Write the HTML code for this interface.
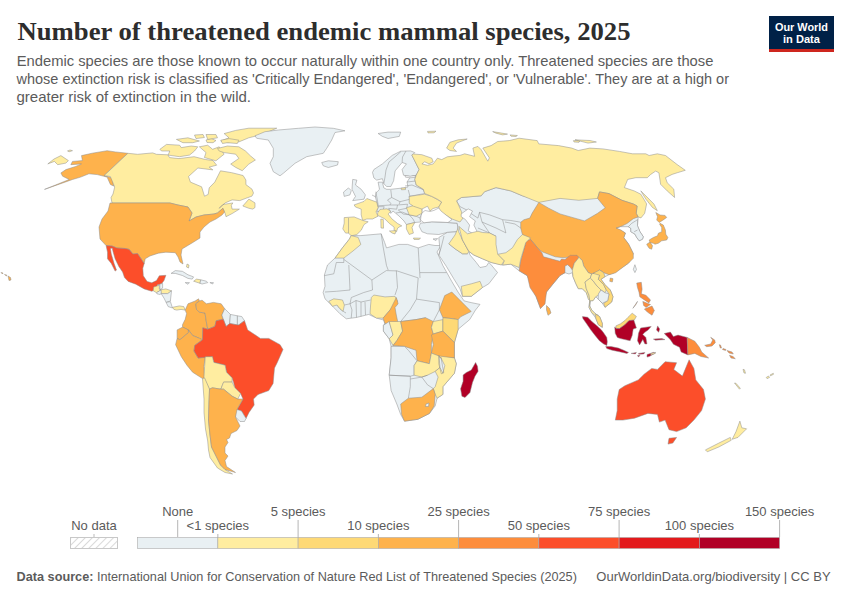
<!DOCTYPE html>
<html><head><meta charset="utf-8">
<style>
html,body{margin:0;padding:0;background:#fff;width:850px;height:600px;overflow:hidden}
svg{display:block}
.t{font-family:"Liberation Serif",serif;font-weight:bold;fill:#2d2d2d}
.s{font-family:"Liberation Sans",sans-serif;fill:#5b5b5b}
.l{font-family:"Liberation Sans",sans-serif;fill:#5b5b5b;font-size:13px}
</style></head><body>
<svg width="850" height="600" viewBox="0 0 850 600">
<defs>
<pattern id="hatch" patternUnits="userSpaceOnUse" width="5" height="5" patternTransform="rotate(45)">
<rect width="5" height="5" fill="#fff"/><line x1="0" y1="0" x2="0" y2="5" stroke="#d0d0d0" stroke-width="1.6"/>
</pattern>
</defs>
<text class="t" x="17.5" y="39.5" font-size="25" textLength="613" lengthAdjust="spacingAndGlyphs">Number of threatened endemic mammal species, 2025</text>
<text class="s" x="16.7" y="66.4" font-size="14.5" textLength="696.7" lengthAdjust="spacingAndGlyphs">Endemic species are those known to occur naturally within one country only. Threatened species are those</text>
<text class="s" x="16.5" y="84.2" font-size="14.5" textLength="712.5" lengthAdjust="spacingAndGlyphs">whose extinction risk is classified as 'Critically Endangered', 'Endangered', or 'Vulnerable'. They are at a high or</text>
<text class="s" x="16.5" y="102" font-size="14.5" textLength="234.5" lengthAdjust="spacingAndGlyphs">greater risk of extinction in the wild.</text>
<!-- logo -->
<rect x="769" y="16" width="65" height="36" fill="#002147"/>
<rect x="769" y="49" width="65" height="3" fill="#ce261e"/>
<text x="801.5" y="30.5" text-anchor="middle" font-family="Liberation Sans,sans-serif" font-weight="bold" font-size="11" fill="#fff" textLength="53" lengthAdjust="spacingAndGlyphs">Our World</text>
<text x="801.5" y="43" text-anchor="middle" font-family="Liberation Sans,sans-serif" font-weight="bold" font-size="11" fill="#fff" textLength="37" lengthAdjust="spacingAndGlyphs">in Data</text>
<g id="map" stroke="#8c8c8c" stroke-width="0.5" stroke-linejoin="round">
<path d="M81.5,155.6 L92.2,153.2 L107.1,150.7 L115.3,151.9 L127.9,153.3 L104.1,175.6 L112.0,177.9 L113.7,186.1 L110.4,184.5 L107.1,177.1 L97.2,174.6 L88.9,173.8 L80.7,177.1 L72.5,179.5 L44.5,189.4 L69.2,179.5 L62.6,176.2 L60.9,172.9 L65.9,169.6 L75.8,166.4 L81.5,163.9 L70.8,164.7 L72.5,161.4 L82.4,160.6Z" fill="#feb24c"/>
<path d="M47.8,163.9 L54.0,159.0 L60.9,155.6 L68.4,160.6 L65.9,163.1 L57.7,164.7 L54.4,161.4Z" fill="#ffeda0"/>
<path d="M67.5,150.9 L70.0,150.0 L72.5,150.7 L69.0,151.8Z" fill="#ffeda0"/>
<path d="M127.9,153.3 L137.6,154.3 L152.7,152.9 L156.5,154.3 L167.8,154.8 L169.6,157.6 L179.0,158.6 L194.1,156.7 L205.4,159.5 L212.9,160.5 L216.7,165.2 L209.2,167.1 L212.9,169.9 L197.9,168.0 L188.5,176.5 L190.4,182.1 L201.6,186.8 L204.5,196.2 L208.2,194.4 L209.2,187.8 L214.8,182.1 L220.5,170.8 L231.8,172.7 L243.1,175.5 L245.9,180.0 L245.9,184.6 L252.0,189.2 L253.5,193.0 L252.0,196.1 L245.9,198.3 L239.8,200.6 L232.1,199.9 L225.2,202.9 L219.1,208.3 L222.9,204.5 L232.9,202.9 L231.3,205.2 L232.1,209.1 L239.4,209.1 L232.1,213.6 L226.0,216.7 L225.2,213.6 L224.5,212.1 L222.9,208.3 L217.6,212.9 L214.0,214.0 L204.0,215.0 L196.0,217.0 L189.0,221.0 L192.0,213.0 L188.0,207.0 L178.0,205.0 L170.0,203.0 L112.0,203.0 L111.0,197.6 L113.0,194.0 L114.7,187.0 L110.3,176.5 L104.1,175.6Z" fill="#ffeda0"/>
<path d="M242.8,206.0 L248.9,199.1 L255.0,202.9 L255.0,207.5 L252.8,209.1 L248.9,208.3Z" fill="#ffeda0"/>
<path d="M159.9,149.3 L166.5,144.4 L179.6,145.2 L181.3,147.6 L191.2,146.0 L197.8,146.8 L194.5,151.0 L189.5,155.1 L179.6,156.7 L168.1,155.1 L169.8,151.0 L161.5,151.0Z" fill="#ffeda0"/>
<path d="M176.4,139.4 L187.9,137.8 L199.4,141.0 L192.8,142.7 L182.9,142.7Z" fill="#ffeda0"/>
<path d="M199.4,146.8 L207.7,145.2 L212.6,149.3 L219.2,146.8 L224.1,154.2 L215.9,160.8 L204.4,157.5 L206.0,152.6Z" fill="#ffeda0"/>
<path d="M217.5,148.5 L227.4,146.0 L238.9,146.8 L245.5,151.0 L250.5,155.9 L255.4,160.0 L248.8,164.1 L242.2,170.7 L235.7,167.4 L230.7,164.1 L238.9,158.4 L235.7,154.2 L224.1,152.6 L219.2,151.0Z" fill="#ffeda0"/>
<path d="M224.1,133.6 L235.7,130.4 L248.8,128.2 L276.8,128.2 L262.0,134.5 L248.8,137.8 L238.9,141.9 L227.4,142.7 L220.8,141.0 L229.0,137.8Z" fill="#ffeda0"/>
<path d="M206.0,140.0 L211.0,138.5 L216.0,140.5 L213.0,142.7 L207.0,142.5Z" fill="#ffeda0"/>
<path d="M220.8,140.2 L229.1,138.6 L238.9,140.2 L237.3,143.5 L227.4,142.7 L222.5,143.5Z" fill="#ffeda0"/>
<path d="M206.0,134.5 L215.9,134.5 L217.5,137.8 L207.7,139.4Z" fill="#ffeda0"/>
<path d="M194.5,135.0 L203.0,134.5 L204.4,137.5 L196.0,138.6Z" fill="#ffeda0"/>
<path d="M255.0,135.8 L265.0,131.7 L278.3,130.0 L298.3,128.3 L315.0,127.0 L333.3,128.3 L345.0,130.8 L335.0,132.5 L331.7,140.0 L326.7,148.3 L323.3,153.3 L306.7,156.7 L295.0,163.3 L283.3,173.3 L280.0,175.8 L273.3,171.7 L270.0,163.3 L273.3,156.7 L273.3,148.3 L268.3,140.0 L256.7,138.3Z" fill="#e9f0f3"/>
<path d="M321.7,162.5 L328.3,160.8 L338.3,161.7 L337.5,165.0 L328.3,167.5 L323.3,165.8Z" fill="#e9f0f3"/>
<path d="M110.0,203.0 L170.0,203.0 L178.0,205.0 L188.0,207.0 L192.0,213.0 L189.0,221.0 L196.0,217.0 L204.0,215.0 L214.0,214.0 L217.6,212.9 L222.9,208.3 L224.5,212.1 L222.0,215.0 L216.0,219.0 L210.0,222.0 L204.0,227.0 L200.0,232.0 L200.0,238.0 L192.0,243.0 L182.0,249.0 L181.0,255.0 L183.0,264.0 L180.0,262.0 L178.1,257.0 L175.3,252.7 L165.9,252.2 L158.4,253.2 L149.9,256.0 L145.2,258.8 L144.2,263.5 L140.5,257.9 L137.6,253.6 L132.9,254.1 L129.2,249.4 L125.4,248.5 L116.9,248.0 L112.2,246.1 L106.1,245.6 L100.0,239.0 L99.0,227.0 L102.0,219.0 L108.0,211.0Z" fill="#feb24c"/>
<path d="M106.1,245.6 L112.2,246.1 L116.9,248.0 L125.4,248.5 L129.2,249.4 L132.9,254.1 L137.6,253.6 L140.5,257.9 L144.2,263.5 L142.8,268.2 L143.3,275.8 L147.1,281.4 L151.8,282.8 L156.5,280.5 L159.3,275.8 L165.9,275.3 L164.0,280.5 L161.2,284.2 L157.4,284.7 L156.5,288.9 L151.8,291.3 L144.2,288.9 L135.8,284.2 L128.2,281.4 L124.5,277.6 L122.6,272.0 L118.8,266.4 L115.1,258.8 L113.2,252.2 L112.2,248.0 L110.4,248.5 L111.3,254.1 L114.1,263.5 L116.5,270.1 L115.1,271.1 L111.3,263.5 L107.5,258.8 L107.5,252.2Z" fill="#fc4e2a"/>
<path d="M153.6,287.1 L159.3,285.2 L159.3,288.9 L161.2,289.9 L156.5,292.7 L153.2,290.8Z" fill="#ffeda0"/>
<path d="M159.8,284.0 L162.6,283.5 L162.6,288.2 L159.8,289.6Z" fill="#e9f0f3"/>
<path d="M160.2,289.9 L165.9,288.9 L171.5,290.8 L167.8,293.6 L161.2,293.6Z" fill="#ffeda0"/>
<path d="M156.5,292.7 L161.2,289.9 L161.2,293.6 L160.0,294.5 L157.0,293.8Z" fill="#e9f0f3"/>
<path d="M161.2,293.6 L167.8,293.6 L171.5,290.8 L170.4,301.0 L166.1,302.4 L164.0,298.1 L162.0,295.0Z" fill="#e9f0f3"/>
<path d="M166.1,302.4 L170.4,301.6 L172.5,308.0 L168.2,306.6Z" fill="#e9f0f3"/>
<path d="M172.5,307.3 L179.5,305.9 L183.8,306.6 L185.2,310.1 L181.0,309.4 L176.7,310.1 L173.9,309.4Z" fill="#ffeda0"/>
<path d="M171.1,273.4 L175.3,270.6 L182.4,271.3 L188.0,274.8 L193.6,276.9 L192.2,279.1 L188.0,278.4 L182.4,275.5 L175.3,273.4Z" fill="#e9f0f3"/>
<path d="M193.6,281.2 L196.5,279.1 L200.7,279.8 L200.0,283.3Z" fill="#ffeda0"/>
<path d="M200.7,279.8 L206.4,281.2 L207.8,282.6 L202.1,284.0 L200.0,283.3Z" fill="#e9f0f3"/>
<path d="M185.2,282.6 L189.4,282.6 L188.0,284.3Z" fill="#e9f0f3"/>
<path d="M209.9,282.6 L213.4,282.6 L212.7,284.0Z" fill="#e9f0f3"/>
<path d="M187.0,264.0 L189.0,265.0 L188.5,268.0 L186.5,267.0Z" fill="#ffeda0"/>
<path d="M185.2,310.1 L188.0,303.8 L195.1,301.0 L198.6,298.8 L199.3,301.0 L195.8,303.8 L196.5,309.4 L199.3,312.2 L205.0,313.0 L206.4,322.1 L207.8,329.2 L202.8,327.8 L202.5,339.8 L199.6,338.4 L192.6,335.5 L188.4,329.9 L182.7,327.1 L182.4,324.9 L185.2,319.3 L186.6,313.6Z" fill="#feb24c"/>
<path d="M199.3,301.0 L202.1,300.2 L206.4,303.8 L213.4,302.4 L221.2,303.8 L224.7,308.7 L221.9,315.1 L223.3,319.3 L216.2,320.7 L214.8,326.4 L207.8,329.2 L206.4,322.1 L205.0,313.0 L199.3,312.2 L196.5,309.4 L195.8,303.8Z" fill="#feb24c"/>
<path d="M224.7,308.7 L230.4,314.4 L229.7,323.5 L226.1,326.4 L223.3,319.3 L221.9,315.1Z" fill="#e9f0f3"/>
<path d="M230.4,314.4 L237.4,315.8 L237.4,324.9 L229.7,323.5Z" fill="#e9f0f3"/>
<path d="M237.4,315.8 L241.7,316.5 L244.5,320.7 L238.8,324.9 L237.4,324.9Z" fill="#e9f0f3"/>
<path d="M177.1,329.9 L182.7,327.1 L188.4,329.9 L188.4,332.7 L179.9,339.8 L177.1,338.4Z" fill="#feb24c"/>
<path d="M188.4,329.9 L192.6,335.5 L199.6,338.4 L202.5,339.8 L194.7,345.4 L194.0,351.1 L198.2,358.1 L205.3,356.7 L203.9,366.6 L204.6,377.9 L202.5,378.6 L192.6,372.2 L186.9,365.2 L181.3,356.7 L175.6,344.7 L177.1,338.4 L179.9,339.8 L188.4,332.7Z" fill="#feb24c"/>
<path d="M202.8,327.8 L207.8,329.2 L214.8,326.4 L216.2,320.7 L223.3,319.3 L226.1,326.4 L229.7,323.5 L237.4,324.9 L238.8,324.9 L244.5,320.7 L247.7,329.9 L251.9,332.7 L260.4,338.4 L268.8,338.4 L280.1,344.7 L283.0,349.6 L277.3,362.4 L274.5,368.0 L273.1,383.5 L268.8,390.6 L258.0,394.5 L253.5,399.0 L254.2,405.0 L249.0,412.5 L246.0,418.5 L241.5,411.0 L237.0,409.5 L243.0,399.0 L240.6,393.4 L234.9,387.8 L233.5,382.1 L232.1,377.9 L226.5,372.2 L225.1,365.2 L213.8,362.4 L212.4,356.7 L198.2,358.1 L194.0,351.1 L194.7,345.4 L202.5,339.8Z" fill="#fc4e2a"/>
<path d="M205.3,356.7 L212.4,356.7 L213.8,362.4 L225.1,365.2 L226.5,372.2 L232.1,377.9 L232.1,382.1 L223.6,382.1 L220.8,389.2 L212.4,387.8 L209.5,389.2 L203.9,377.9 L204.6,366.6Z" fill="#ffeda0"/>
<path d="M223.6,382.1 L232.1,382.1 L234.9,387.8 L240.6,393.4 L237.8,399.1 L232.1,396.2 L223.6,389.2 L220.8,389.2Z" fill="#ffeda0"/>
<path d="M235.5,409.5 L237.0,409.5 L241.5,411.0 L246.0,418.5 L244.5,421.5 L240.0,421.5 L235.5,417.0Z" fill="#e9f0f3"/>
<path d="M202.5,378.6 L204.6,377.9 L209.5,389.2 L209.0,402.0 L208.5,420.0 L210.0,435.0 L211.5,447.0 L216.0,456.0 L220.5,465.0 L225.0,469.5 L232.5,474.0 L225.0,472.5 L217.5,468.0 L210.0,457.5 L208.5,450.0 L207.7,441.0 L205.5,429.0 L204.0,412.5 L204.0,399.0Z" fill="#ffeda0"/>
<path d="M209.5,389.2 L212.4,387.8 L220.8,389.2 L223.6,389.2 L232.1,396.2 L237.8,399.1 L243.0,399.0 L237.0,409.5 L235.5,417.0 L240.0,426.0 L237.0,430.5 L231.0,433.5 L229.5,438.0 L226.5,439.5 L228.0,442.5 L225.0,447.0 L225.0,453.0 L228.0,456.0 L225.0,460.5 L226.5,466.5 L235.5,472.5 L225.0,469.5 L220.5,465.0 L216.0,456.0 L211.5,447.0 L210.0,435.0 L208.5,420.0 L209.0,402.0Z" fill="#feb24c"/>
<path d="M378.1,133.5 L388.0,132.1 L400.7,132.1 L399.3,136.4 L388.0,138.5 L382.4,136.4Z" fill="#e9f0f3"/>
<path d="M427.5,131.4 L436.0,131.2 L434.0,132.8 L428.0,132.9Z" fill="#ffeda0"/>
<path d="M446.6,148.1 L449.9,142.3 L458.1,139.8 L467.2,139.0 L456.5,143.1 L453.2,148.1 L456.5,151.4 L449.9,150.5Z" fill="#ffeda0"/>
<path d="M372.5,172.4 L373.9,169.5 L382.4,163.9 L392.2,155.4 L400.7,151.2 L410.6,150.9 L414.8,152.6 L412.0,155.4 L419.1,169.5 L416.2,175.2 L410.6,176.6 L403.5,175.2 L402.1,169.5 L406.4,163.9 L402.1,162.5 L395.1,170.9 L393.6,180.8 L390.8,186.5 L386.6,186.5 L383.8,183.6 L382.4,178.7 L376.7,180.1 L373.9,178.0Z" fill="#e9f0f3"/>
<path d="M401.0,151.5 L396.0,156.0 L389.0,162.0 L386.0,170.0 L385.0,177.0 L383.8,183.6" fill="none"/>
<path d="M406.0,151.0 L402.5,157.0 L402.1,162.5" fill="none"/>
<path d="M352.7,179.4 L356.9,180.1 L355.5,185.0 L361.2,189.3 L365.4,194.9 L364.0,199.2 L352.7,200.6 L355.5,196.4 L352.0,189.3Z" fill="#e9f0f3"/>
<path d="M343.5,192.1 L348.5,187.9 L351.3,190.7 L349.9,194.9 L344.2,196.4Z" fill="#e9f0f3"/>
<path d="M375.3,196.4 L376.0,193.0 L378.1,190.7 L379.5,189.3 L378.1,182.2 L382.4,182.2 L383.8,187.9 L386.6,189.3 L390.8,189.3 L403.5,187.9 L408.0,187.0 L407.0,182.0 L410.6,176.6 L416.2,175.2 L414.8,179.4 L416.2,185.0 L423.3,189.3 L424.7,193.5 L409.2,196.4 L410.6,203.4 L413.4,206.2 L421.9,209.1 L421.9,213.4 L420.0,218.0 L420.5,222.0 L414.8,222.5 L406.4,224.6 L404.0,221.0 L399.0,216.0 L393.0,211.0 L390.8,213.4 L389.4,209.1 L382.4,210.5 L376.7,211.9 L378.1,207.7 L376.7,202.1Z" fill="#e9f0f3"/>
<path d="M390.8,190.0 L391.7,197.5 L387.5,200.0 L390.8,203.3 L390.0,205.0" fill="none"/>
<path d="M375.8,191.7 L377.0,198.0 L378.3,205.8 L390.0,205.0" fill="none"/>
<path d="M391.7,197.5 L400.0,201.7 L410.0,199.2" fill="none"/>
<path d="M390.0,205.0 L397.5,205.0 L407.5,204.2" fill="none"/>
<path d="M399.2,204.2 L400.0,201.7" fill="none"/>
<path d="M388.3,208.3 L396.7,209.2 L397.5,205.0" fill="none"/>
<path d="M398.3,210.0 L406.7,208.3 L407.5,204.2" fill="none"/>
<path d="M376.7,206.7 L384.2,206.7 L383.3,209.2" fill="none"/>
<path d="M408.3,190.0 L410.0,196.7 L421.7,196.7" fill="none"/>
<path d="M405.0,186.0 L412.0,185.0 L424.0,190.0" fill="none"/>
<path d="M398.3,210.0 L403.0,214.0 L409.2,214.8" fill="none"/>
<path d="M372.0,195.0 L376.0,197.0" fill="none"/>
<path d="M407.0,182.0 L415.5,181.0" fill="none"/>
<path d="M396.0,213.0 L402.0,212.0 L409.2,214.8 L413.0,219.0 L414.8,222.5" fill="none"/>
<path d="M409.2,214.8 L416.2,216.2 L420.0,218.0" fill="none"/>
<path d="M405.0,175.6 L410.0,176.2 L415.5,175.6 L415.0,177.3 L410.0,177.8 L405.5,177.2Z" fill="#ffffff"/>
<path d="M401.0,188.2 L405.5,187.8 L405.5,189.6 L401.5,189.8Z" fill="#ffeda0"/>
<path d="M354.1,204.9 L364.0,201.4 L366.8,198.5 L376.7,202.1 L378.1,207.7 L376.0,211.9 L378.1,216.2 L372.5,219.0 L366.8,219.0 L362.6,220.4 L361.2,214.8 L361.2,209.1 L355.5,207.0Z" fill="#ffeda0"/>
<path d="M344.2,217.6 L354.1,216.9 L362.6,220.4 L368.2,221.8 L364.0,224.6 L361.2,230.3 L356.9,234.5 L351.3,235.9 L348.5,233.1 L345.6,233.1 L342.8,228.9 L344.2,223.2Z" fill="#ffeda0"/>
<path d="M348.5,218.0 L348.5,233.1" fill="none"/>
<path d="M377.6,212.9 L380.0,209.4 L387.0,208.8 L390.6,211.2 L388.2,214.1 L391.8,218.8 L397.6,223.5 L401.8,225.9 L400.0,226.5 L397.6,228.2 L396.5,231.8 L394.1,230.6 L394.1,227.1 L389.4,223.5 L384.7,218.8 L380.0,216.5 L377.6,215.3Z" fill="#ffeda0"/>
<path d="M389.4,231.0 L396.0,230.6 L395.0,234.0 L392.0,233.0Z" fill="#ffeda0"/>
<path d="M380.8,219.0 L383.3,219.5 L383.5,228.2 L381.0,228.0Z" fill="#ffeda0"/>
<path d="M406.4,224.6 L414.8,222.5 L412.0,227.5 L413.4,233.1 L409.2,234.5 L406.4,228.9Z" fill="#ffeda0"/>
<path d="M413.4,238.0 L420.5,238.2 L419.0,239.5 L414.0,239.4Z" fill="#ffeda0"/>
<path d="M406.4,207.7 L413.4,205.6 L421.9,207.7 L421.9,213.4 L416.2,216.2 L409.2,214.8Z" fill="#ffeda0"/>
<path d="M409.2,196.4 L424.7,194.2 L431.8,196.4 L441.7,202.0 L438.8,207.0 L433.0,208.5 L430.0,211.0 L427.5,206.2 L421.9,209.1 L413.4,206.2 L409.2,203.4Z" fill="#ffeda0"/>
<path d="M420.5,223.2 L431.8,221.8 L447.3,222.5 L457.2,223.2 L458.6,231.7 L447.3,232.4 L438.8,234.5 L427.5,233.8 L421.9,231.7 L419.1,226.1Z" fill="#e9f0f3"/>
<path d="M433.0,239.0 L437.5,238.5 L436.0,240.5Z" fill="#e9f0f3"/>
<path d="M351.2,235.6 L360.9,235.6 L381.2,233.8 L384.7,242.6 L386.5,247.9 L398.8,244.4 L407.6,244.4 L418.2,247.9 L428.8,244.4 L435.0,245.5 L441.0,245.5 L437.0,252.0 L442.9,265.6 L451.8,281.5 L458.0,292.0 L464.1,300.9 L471.2,302.6 L480.0,304.4 L475.5,310.0 L469.7,319.6 L458.2,329.2 L454.4,342.6 L454.4,357.9 L456.3,363.7 L454.4,373.3 L442.9,386.7 L442.9,394.4 L437.1,398.2 L435.2,405.9 L429.4,413.5 L417.9,419.3 L404.5,421.2 L400.7,414.5 L396.8,404.0 L391.1,390.5 L389.2,375.2 L391.1,357.9 L391.1,346.4 L389.2,338.8 L383.4,331.1 L383.4,325.3 L384.7,323.8 L385.0,325.0 L383.8,320.0 L378.8,318.8 L372.5,316.3 L368.8,314.4 L356.3,317.5 L346.3,318.8 L340.0,313.8 L333.8,307.5 L328.8,302.5 L325.0,298.8 L323.1,292.5 L325.0,286.3 L324.4,275.0 L327.5,265.0 L335.0,258.1 L342.4,247.9 L349.4,239.1Z" fill="#e9f0f3"/>
<path d="M343.8,258.1 L343.8,262.5 L336.3,262.5 L333.8,273.8 L324.4,275.6" fill="none"/>
<path d="M343.8,259.4 L371.9,280.0 L386.3,270.6 L397.0,270.9 L418.2,277.9" fill="none"/>
<path d="M381.2,233.8 L383.0,246.2 L386.5,265.6 L388.2,270.0" fill="none"/>
<path d="M418.2,247.9 L420.0,277.9" fill="none"/>
<path d="M420.0,272.6 L446.5,272.6" fill="none"/>
<path d="M348.8,265.0 L350.0,290.0 L336.3,291.3 L325.0,292.0" fill="none"/>
<path d="M350.0,303.8 L351.3,297.5 L363.8,292.5 L372.5,290.0 L371.9,280.0" fill="none"/>
<path d="M396.3,270.6 L397.5,287.5 L395.0,295.0" fill="none"/>
<path d="M418.2,277.9 L416.5,299.1 L410.0,310.0 L400.7,321.5" fill="none"/>
<path d="M416.5,299.1 L439.4,302.6 L439.4,309.7" fill="none"/>
<path d="M344.4,305.0 L350.0,303.8 L352.0,310.0 L351.2,318.0" fill="none"/>
<path d="M350.0,303.8 L356.0,300.5 L361.0,302.0 L361.0,316.5" fill="none"/>
<path d="M356.0,300.5 L356.5,317.5" fill="none"/>
<path d="M365.0,302.0 L365.5,315.0" fill="none"/>
<path d="M361.0,302.0 L370.6,300.0" fill="none"/>
<path d="M336.9,305.0 L340.0,308.8 L343.1,311.3 L346.0,313.0" fill="none"/>
<path d="M400.7,321.5 L416.0,319.6 L425.6,317.7" fill="none"/>
<path d="M433.3,321.5 L439.4,309.7" fill="none"/>
<path d="M351.2,235.6 L358.2,237.4 L360.9,244.4 L353.0,251.0 L343.8,258.1 L335.0,258.1 L342.4,247.9 L349.4,239.1Z" fill="#ffeda0"/>
<path d="M328.8,301.3 L333.8,298.8 L342.5,300.0 L344.4,305.0 L343.1,311.3 L340.0,308.8 L336.9,305.0 L332.5,306.3Z" fill="#ffeda0"/>
<path d="M371.3,297.5 L373.8,295.0 L385.0,296.9 L395.0,296.3 L397.5,301.3 L390.0,310.0 L383.1,318.1 L376.3,318.1 L370.0,313.8 L370.6,305.0Z" fill="#ffeda0"/>
<path d="M396.3,297.5 L397.5,301.3 L398.1,303.8 L395.0,307.5 L396.3,315.0 L398.1,323.5 L385.0,323.5 L383.1,318.1 L390.0,310.0Z" fill="#feb24c"/>
<path d="M444.7,295.6 L451.8,292.0 L458.8,299.1 L462.3,302.6 L471.2,311.5 L460.6,316.8 L458.2,319.6 L451.0,318.5 L442.9,317.7 L439.4,309.7Z" fill="#feb24c"/>
<path d="M383.4,325.3 L389.2,321.5 L393.0,335.0 L389.2,338.8 L383.4,331.1Z" fill="#e9f0f3"/>
<path d="M389.2,321.5 L400.7,321.5 L402.6,331.1 L396.8,340.7 L393.0,345.5 L389.2,338.8 L393.0,335.0Z" fill="#ffeda0"/>
<path d="M400.7,321.5 L416.0,319.6 L425.6,317.7 L433.3,321.5 L431.4,327.3 L433.3,334.0 L431.4,344.5 L431.4,353.1 L429.4,363.7 L417.0,360.8 L416.0,350.3 L404.5,346.4 L393.0,345.5 L396.8,340.7 L402.6,331.1Z" fill="#feb24c"/>
<path d="M433.3,321.5 L442.9,319.6 L442.9,331.1 L433.3,334.0 L431.4,327.3Z" fill="#ffeda0"/>
<path d="M442.9,317.7 L451.0,318.5 L458.2,319.6 L458.2,329.2 L454.4,342.6 L442.9,331.1Z" fill="#fed976"/>
<path d="M431.4,334.9 L433.3,334.0 L442.9,331.1 L454.4,342.6 L454.4,357.9 L441.0,358.0 L431.4,353.1 L433.3,344.5Z" fill="#feb24c"/>
<path d="M391.1,346.4 L404.5,346.4 L408.4,350.3 L417.0,360.8 L414.1,365.6 L414.1,375.2 L410.3,376.2 L389.2,375.2 L391.1,357.9Z" fill="#e9f0f3"/>
<path d="M414.1,365.6 L417.0,360.8 L429.4,363.7 L431.4,353.1 L439.0,356.0 L440.0,367.5 L435.2,371.4 L427.5,375.2 L421.8,377.1 L414.1,375.2Z" fill="#ffeda0"/>
<path d="M439.0,356.0 L454.4,357.9 L456.3,363.7 L454.4,373.3 L442.9,386.7 L442.9,394.4 L437.1,398.2 L435.2,394.4 L433.3,388.6 L435.2,386.7 L438.1,377.1 L435.2,371.4 L440.0,367.5 L442.9,373.3 L444.8,365.6 L441.0,358.0Z" fill="#ffeda0"/>
<path d="M389.2,375.2 L410.3,376.2 L410.3,386.7 L408.4,398.2" fill="none"/>
<path d="M410.3,379.0 L421.8,377.1 L427.5,384.8 L433.3,388.6" fill="none"/>
<path d="M421.8,377.1 L427.5,375.2" fill="none"/>
<path d="M400.7,404.0 L408.4,398.2 L421.8,397.2 L433.3,388.6 L435.2,394.4 L434.2,405.9 L429.4,413.5 L417.9,419.3 L404.5,421.2 L401.6,414.5Z" fill="#feb24c"/>
<path d="M426.0,404.0 L429.0,403.0 L428.5,406.5 L425.5,406.5Z" fill="#e9f0f3"/>
<path d="M475.6,362.5 L477.5,366.3 L478.1,371.3 L475.0,376.3 L472.5,382.5 L470.0,392.5 L465.0,397.5 L461.9,396.3 L460.6,388.8 L463.1,381.3 L463.1,375.0 L466.3,372.5 L471.3,370.0Z" fill="#b10026"/>
<path d="M438.8,355.0 L438.8,363.8 L441.3,373.8 L443.8,372.5 L442.5,366.3 L441.0,357.0" fill="none"/>
<path d="M438.8,237.5 L447.3,232.4 L458.6,231.7 L458.8,226.3 L462.5,240.0 L468.8,251.3 L470.0,255.0 L476.3,262.5 L480.0,267.5 L486.3,266.3 L488.8,262.5 L491.3,265.0 L497.5,272.5 L488.8,283.8 L482.5,287.5 L471.3,296.3 L462.5,296.3 L460.0,288.8 L453.8,278.8 L446.3,266.3 L438.8,255.0 L440.0,250.0Z" fill="#e9f0f3"/>
<path d="M444.0,236.0 L441.0,248.0 L438.8,255.0" fill="none"/>
<path d="M448.8,243.8 L455.0,248.8 L462.5,253.8 L467.5,253.8" fill="none"/>
<path d="M461.3,286.3 L471.3,283.8 L480.0,281.3 L482.5,287.5 L471.3,296.3 L462.5,296.3Z" fill="#ffeda0"/>
<path d="M448.8,243.8 L455.0,235.0 L458.8,226.3 L462.5,240.0 L468.8,251.3 L467.5,253.8 L462.5,253.8 L455.0,248.8Z" fill="#ffeda0"/>
<path d="M447.3,209.1 L456.5,200.8 L461.4,197.5 L481.2,195.8 L484.5,191.7 L496.0,187.6 L510.8,190.9 L522.4,195.8 L538.8,200.0 L560.0,196.0 L578.8,198.0 L597.6,196.0 L599.5,189.9 L609.0,191.6 L622.0,198.3 L633.4,202.0 L639.0,204.0 L638.0,213.0 L638.1,218.7 L637.5,225.8 L640.0,231.7 L643.3,236.7 L642.5,239.2 L639.2,240.8 L636.7,237.5 L635.0,234.2 L630.8,231.7 L630.8,228.3 L628.3,226.7 L620.7,226.7 L615.9,228.2 L625.4,233.0 L623.8,237.7 L628.6,244.1 L633.3,253.6 L628.6,263.1 L614.3,272.6 L609.0,274.7 L605.0,276.7 L601.0,279.3 L605.0,284.7 L610.3,290.0 L613.0,296.7 L611.7,302.0 L605.0,307.3 L602.3,303.3 L598.3,299.3 L595.7,296.7 L593.0,300.7 L590.3,300.7 L589.7,306.0 L591.7,310.0 L595.7,314.0 L599.7,316.7 L602.3,323.3 L602.3,327.3 L598.3,324.7 L595.7,318.0 L591.7,312.7 L589.0,307.3 L589.7,300.7 L586.3,292.7 L582.3,288.7 L578.3,288.7 L575.7,283.3 L573.0,276.7 L572.3,272.7 L569.0,274.0 L565.0,272.7 L560.0,275.5 L546.5,292.0 L540.5,308.5 L536.0,296.5 L527.3,275.7 L519.1,270.8 L510.8,264.2 L502.6,265.0 L491.3,262.5 L482.5,258.8 L473.8,255.0 L468.8,251.3 L462.5,240.0 L458.6,231.7 L457.2,223.2 L447.3,222.5 L445.0,216.0Z" fill="#e9f0f3"/>
<path d="M456.5,200.8 L459.8,206.5 L466.4,209.8 L472.9,214.8 L477.9,218.1 L479.5,212.3 L489.4,214.8 L502.6,219.7 L510.8,220.5 L520.7,222.2" fill="none"/>
<path d="M477.9,228.0 L489.4,232.9 L496.0,236.2" fill="none"/>
<path d="M502.6,219.7 L505.9,232.9" fill="none"/>
<path d="M412.0,154.7 L413.4,154.0 L421.9,154.7 L431.8,158.2 L433.2,161.8 L429.0,163.9 L424.7,161.8 L421.9,163.9 L427.5,165.3 L433.2,163.9 L437.4,158.2 L441.7,159.6 L447.3,156.8 L453.0,156.1 L460.0,155.4 L464.7,153.8 L474.6,156.3 L472.9,148.1 L477.9,146.4 L481.2,149.7 L487.8,161.2 L489.4,157.9 L482.8,148.1 L491.1,145.6 L497.7,141.5 L509.2,140.6 L519.1,138.2 L537.2,140.6 L538.8,143.9 L558.6,145.6 L571.8,148.1 L578.2,150.5 L589.8,148.1 L602.9,148.9 L619.4,151.4 L632.6,153.8 L645.8,153.8 L649.1,155.5 L657.3,153.8 L665.5,155.5 L677.1,164.5 L685.3,170.3 L677.1,172.8 L672.1,174.4 L665.5,177.7 L667.2,182.7 L673.8,189.2 L674.6,197.5 L667.2,190.9 L660.6,184.3 L658.9,172.8 L655.7,171.1 L650.7,174.4 L647.4,177.7 L635.9,177.7 L627.7,179.4 L624.4,187.6 L634.2,190.9 L640.8,194.2 L645.8,202.4 L646.6,204.0 L644.7,213.3 L641.0,217.9 L638.1,217.0 L636.2,213.3 L637.1,206.0 L633.4,204.0 L622.0,200.3 L609.0,193.6 L599.5,191.9 L597.6,198.4 L578.8,200.3 L560.0,198.4 L538.8,202.4 L522.4,195.8 L510.8,190.9 L496.0,187.6 L484.5,191.7 L481.2,195.8 L461.4,197.5 L456.5,200.8 L459.0,206.0 L461.4,211.5 L463.0,218.0 L460.0,222.0 L452.0,219.0 L444.0,214.0 L439.0,211.0 L438.8,207.0 L441.7,202.0 L437.4,199.2 L431.8,196.4 L424.7,193.5 L423.3,189.3 L416.2,185.0 L414.8,179.4 L416.2,175.2 L419.1,169.5 L412.0,155.4Z" fill="#ffeda0"/>
<path d="M640.8,190.9 L646.0,196.0 L654.0,204.1 L657.3,210.7 L652.4,207.4 L645.8,199.1Z" fill="#ffeda0"/>
<path d="M492.7,131.6 L507.5,134.1 L502.6,134.9 L496.0,133.2Z" fill="#ffeda0"/>
<path d="M510.0,134.9 L517.4,135.5 L516.0,136.5 L511.0,136.2Z" fill="#ffeda0"/>
<path d="M573.4,140.6 L580.0,140.8 L579.0,142.3 L574.0,142.0Z" fill="#ffeda0"/>
<path d="M575.0,139.8 L590.0,140.5 L596.4,142.0 L588.0,143.1Z" fill="#ffeda0"/>
<path d="M461.2,213.9 L468.2,208.9 L472.5,211.0 L469.6,216.7 L475.3,220.9 L473.9,225.1 L478.1,233.6 L473.9,234.3 L468.2,230.8 L469.6,225.1 L465.4,219.5 L461.2,216.7Z" fill="#ffffff"/>
<path d="M520.7,228.0 L520.7,222.2 L524.0,219.7 L529.8,218.1 L532.2,213.1 L538.8,202.4 L548.7,208.2 L560.0,213.9 L584.5,220.9 L597.6,213.3 L605.2,207.8 L597.6,198.4 L599.5,191.9 L609.0,193.6 L622.0,200.3 L633.4,204.0 L637.1,206.0 L636.2,213.3 L638.1,217.0 L633.3,218.7 L627.0,223.5 L622.0,226.0 L616.0,228.0 L621.0,230.0 L625.4,233.0 L623.8,237.7 L628.6,244.1 L633.3,253.6 L633.3,258.3 L628.6,263.1 L622.2,267.8 L615.7,272.7 L611.7,274.0 L609.0,274.7 L603.7,272.7 L599.7,270.0 L595.7,272.7 L591.7,274.0 L588.3,272.7 L583.7,266.0 L582.3,260.7 L579.0,257.3 L576.7,256.0 L565.2,257.6 L561.9,257.6 L555.3,256.8 L542.1,251.8 L538.8,249.4 L530.6,239.5 L522.4,234.5Z" fill="#feb24c"/>
<path d="M628.3,226.7 L631.7,223.3 L635.8,220.8 L637.5,219.6 L637.5,225.8 L640.0,231.7 L643.3,236.7 L642.5,239.2 L639.2,240.8 L636.7,237.5 L635.0,234.2 L630.8,231.7 L630.8,228.3Z" fill="#e9f0f3"/>
<path d="M634.2,231.7 L637.5,230.0" fill="none"/>
<path d="M524.0,241.1 L530.6,239.5 L538.8,249.4 L542.0,253.0 L543.5,256.8 L560.0,261.3 L561.5,259.0 L565.0,259.5 L570.3,255.3 L577.0,255.3 L579.0,258.0 L574.3,263.3 L572.3,270.0 L570.3,267.3 L567.7,264.7 L565.0,266.0 L565.0,272.7 L560.0,275.5 L552.5,284.5 L546.5,292.0 L545.0,304.0 L540.5,308.5 L536.0,296.5 L530.0,287.5 L527.3,275.7 L519.1,270.8 L520.7,260.9 L525.7,242.8Z" fill="#fd8d3c"/>
<path d="M546.5,305.5 L549.5,308.5 L551.0,313.0 L548.0,315.3 L546.5,310.0Z" fill="#feb24c"/>
<path d="M522.4,234.5 L530.6,237.8 L525.7,242.8 L520.7,259.2 L519.1,267.5 L510.8,264.2 L502.6,265.0 L504.2,260.9 L497.7,254.3 L505.9,252.7 L512.5,247.7 L517.4,239.5Z" fill="#ffeda0"/>
<path d="M458.8,226.3 L467.5,233.8 L477.9,231.2 L482.5,232.5 L489.4,232.9 L496.0,236.2 L496.0,244.4 L497.7,254.3 L504.2,260.9 L501.3,265.0 L491.3,262.5 L482.5,258.8 L473.8,255.0 L468.8,251.3 L462.5,240.0Z" fill="#ffeda0"/>
<path d="M579.0,257.3 L582.3,260.7 L583.7,266.0 L588.3,272.7 L591.7,274.0 L590.3,278.0 L585.0,282.0 L586.3,288.7 L589.0,295.3 L589.7,300.7 L588.3,299.3 L586.3,292.7 L582.3,288.7 L578.3,288.7 L575.7,283.3 L573.0,276.7 L572.3,270.0 L574.3,263.3Z" fill="#ffeda0"/>
<path d="M585.0,282.0 L590.3,278.0 L593.0,280.7 L597.0,286.0 L601.0,290.0 L598.3,295.3 L595.7,296.7 L593.0,300.7 L590.3,300.7 L589.7,306.0 L591.7,310.0 L595.7,314.0 L598.3,315.3 L595.7,316.0 L591.7,312.7 L589.0,307.3 L589.7,300.7 L589.0,295.3 L586.3,288.7Z" fill="#ffeda0"/>
<path d="M590.3,278.0 L591.7,274.0 L595.7,272.7 L599.7,275.3 L598.3,279.3 L603.7,284.7 L606.3,290.0 L605.0,292.7 L601.0,290.0 L597.0,286.0 L593.0,280.7Z" fill="#ffeda0"/>
<path d="M593.0,273.3 L599.7,270.0 L603.7,272.7 L605.0,276.7 L601.0,279.3 L605.0,284.7 L610.3,290.0 L613.0,296.7 L611.7,302.0 L605.0,307.3 L603.7,303.3 L607.7,300.7 L609.0,294.0 L606.3,290.0 L603.7,284.7 L598.3,279.3 L599.7,275.3Z" fill="#fed976"/>
<path d="M598.3,294.0 L601.0,290.0 L605.0,292.7 L609.0,294.0 L607.7,300.7 L602.3,303.3 L598.3,299.3Z" fill="#e9f0f3"/>
<path d="M595.7,314.0 L599.7,316.7 L602.3,323.3 L602.3,327.3 L598.3,324.7 L595.7,318.0Z" fill="#fed976"/>
<path d="M655.8,212.5 L660.0,215.0 L665.0,215.4 L666.7,217.5 L662.5,220.4 L659.2,222.5 L656.7,220.0 L657.5,216.7Z" fill="#feb24c"/>
<path d="M660.0,223.3 L663.3,225.0 L665.4,230.0 L665.8,234.2 L667.9,237.5 L666.7,240.0 L661.7,240.8 L658.3,243.3 L655.0,244.2 L653.3,243.3 L650.0,242.5 L649.2,240.0 L653.3,237.5 L657.5,235.8 L658.3,233.3 L661.7,231.7 L661.7,227.5 L659.6,224.2Z" fill="#feb24c"/>
<path d="M646.7,244.2 L650.0,242.1 L652.5,245.8 L651.7,249.2 L649.2,248.3 L647.5,245.8Z" fill="#feb24c"/>
<path d="M634.9,264.7 L636.5,269.4 L634.9,272.6 L633.3,269.4Z" fill="#e9f0f3"/>
<path d="M610.3,278.0 L613.0,278.7 L612.3,282.0 L609.7,281.3Z" fill="#feb24c"/>
<path d="M636.7,283.1 L641.3,282.3 L642.1,289.2 L641.3,293.8 L645.9,295.3 L650.5,299.9 L648.9,302.9 L644.4,299.9 L639.8,296.8 L639.0,292.2 L637.5,287.6Z" fill="#fd8d3c"/>
<path d="M642.8,301.4 L650.5,304.5 L645.9,307.5 L643.6,305.2Z" fill="#fd8d3c"/>
<path d="M644.4,309.1 L652.0,306.0 L654.3,310.6 L652.0,315.2 L647.4,312.1Z" fill="#fd8d3c"/>
<path d="M632.9,308.3 L637.5,301.4 L635.9,304.5Z" fill="#fd8d3c"/>
<path d="M615.8,325.9 L620.5,323.8 L624.8,320.6 L627.9,317.4 L632.2,313.2 L636.4,316.4 L634.3,320.1 L629.0,320.6 L624.8,324.8 L619.5,328.5 L616.3,328.5Z" fill="#fed976"/>
<path d="M614.7,326.9 L616.3,328.5 L619.5,328.5 L624.8,324.8 L629.0,320.6 L633.8,320.1 L635.4,324.8 L636.4,328.0 L633.2,329.1 L632.2,335.4 L630.1,340.7 L624.8,339.6 L620.5,338.6 L617.4,337.5 L615.2,333.3Z" fill="#b10026"/>
<path d="M582.4,316.6 L587.7,317.2 L591.9,321.6 L597.2,325.9 L601.5,330.1 L603.6,332.8 L606.8,337.5 L607.3,341.8 L606.8,345.5 L603.6,343.9 L599.4,340.7 L595.1,335.4 L590.9,330.1 L586.6,323.8 L582.9,318.5Z" fill="#b10026"/>
<path d="M605.7,346.5 L611.0,346.5 L618.4,348.1 L623.7,350.2 L628.5,352.4 L626.9,353.4 L619.5,351.8 L612.1,350.2 L606.8,348.6Z" fill="#b10026"/>
<path d="M640.6,328.0 L651.2,326.4 L648.1,330.1 L644.9,332.2 L642.8,334.4 L645.9,337.5 L647.0,343.9 L644.9,343.9 L642.8,339.6 L639.6,344.9 L637.5,340.7 L638.5,333.3Z" fill="#b10026"/>
<path d="M631.1,353.4 L636.4,352.4 L635.4,353.9Z" fill="#b10026"/>
<path d="M638.5,353.4 L644.9,352.4 L643.8,353.9 L638.8,354.2Z" fill="#b10026"/>
<path d="M637.5,355.5 L640.0,355.2 L638.5,357.1Z" fill="#b10026"/>
<path d="M647.0,354.5 L653.4,352.4 L655.5,352.9 L649.1,356.6 L647.0,357.1Z" fill="#b10026"/>
<path d="M657.6,325.9 L659.7,329.1 L658.7,332.2 L656.5,330.1Z" fill="#b10026"/>
<path d="M653.4,339.1 L661.8,338.6 L665.0,339.6 L655.5,340.2Z" fill="#b10026"/>
<path d="M664.2,333.5 L670.4,332.0 L673.4,336.6 L678.0,335.1 L687.2,337.4 L687.9,354.9 L681.1,351.9 L679.5,347.3 L673.4,344.2 L670.4,339.7Z" fill="#b10026"/>
<path d="M687.2,337.4 L694.8,341.2 L699.4,347.3 L701.7,351.9 L708.6,358.0 L701.0,356.5 L694.8,353.4 L687.9,354.9Z" fill="#fd8d3c"/>
<path d="M704.7,345.3 L710.7,344.0 L712.7,340.0 L710.7,337.3 L714.7,340.0 L715.3,342.7 L712.0,346.0 L706.7,346.7Z" fill="#fd8d3c"/>
<path d="M719.3,344.7 L720.5,345.0 L721.5,348.0 L720.3,348.0Z" fill="#fd8d3c"/>
<path d="M723.0,348.5 L726.0,349.5 L725.5,350.5 L722.5,349.5Z" fill="#fd8d3c"/>
<path d="M727.0,350.5 L732.0,352.0 L733.3,354.0 L729.0,353.0Z" fill="#fd8d3c"/>
<path d="M729.5,355.3 L733.0,356.5 L735.3,358.7 L731.0,358.0Z" fill="#fd8d3c"/>
<path d="M743.0,369.3 L744.5,369.8 L745.5,373.3 L744.0,373.0Z" fill="#ffeda0"/>
<path d="M766.2,377.5 L768.5,376.0 L769.5,377.5 L767.0,378.6Z" fill="#ffeda0"/>
<path d="M770.0,375.0 L773.3,373.3 L773.5,374.3 L770.5,375.8Z" fill="#ffeda0"/>
<path d="M1.0,272.5 L3.0,273.0 L2.5,274.0Z" fill="#feb24c"/>
<path d="M4.5,274.5 L7.0,275.2 L6.5,276.0Z" fill="#feb24c"/>
<path d="M8.0,276.0 L10.5,277.5 L11.0,280.0 L9.0,280.5 L8.5,278.0Z" fill="#feb24c"/>
<path d="M650.5,353.5 L655.5,352.4 L655.0,353.5 L651.0,355.0Z" fill="#ffeda0"/>
<path d="M619.2,389.5 L624.9,385.7 L638.3,379.9 L644.1,374.2 L651.7,368.4 L657.5,369.4 L665.1,361.7 L676.6,362.7 L673.8,369.4 L682.4,376.1 L689.1,359.8 L693.9,368.4 L695.8,379.9 L703.5,389.5 L705.4,399.1 L701.6,410.6 L693.9,420.1 L686.2,427.8 L676.6,431.6 L669.0,429.7 L665.1,420.1 L659.4,422.1 L657.5,414.4 L647.9,413.4 L634.5,418.2 L623.0,420.1 L615.3,420.1 L617.2,410.6 L617.2,399.1Z" fill="#fc4e2a"/>
<path d="M669.0,438.3 L676.6,437.4 L672.8,443.1 L668.0,444.1Z" fill="#fc4e2a"/>
<path d="M739.9,421.1 L741.8,427.8 L746.6,428.8 L738.0,437.4 L732.2,439.3 L736.0,431.6Z" fill="#ffeda0"/>
<path d="M730.3,437.4 L731.2,440.3 L718.8,447.0 L707.3,451.8 L705.4,449.9 L718.8,443.1Z" fill="#ffeda0"/>
<path d="M734.5,383.0 L736.0,383.3 L740.3,388.3 L739.5,389.2Z" fill="#ffeda0"/>
<path d="M422.0,213.0 L425.0,210.5 L430.0,211.5 L434.0,210.4 L438.8,208.0 L441.0,211.0 L446.0,215.0 L452.0,219.5 L448.0,222.5 L440.0,222.0 L431.8,221.8 L424.0,222.8 L420.5,220.0 L421.0,216.0Z" fill="#ffffff"/>
<path d="M479.5,212.3 L482.0,222.0 L489.4,232.9" fill="none"/>
<path d="M482.0,222.0 L496.0,228.0 L505.9,232.9" fill="none"/>
<path d="M505.0,222.0 L515.0,224.0 L520.7,228.0" fill="none"/>
</g>
<!-- legend -->
<g id="legend">
<rect x="70.5" y="537.5" width="47" height="11" fill="url(#hatch)" stroke="#c8c8c8" stroke-width="1"/>
<line x1="94" y1="534" x2="94" y2="537" stroke="#bbb"/>
<text class="l" x="94" y="530" text-anchor="middle">No data</text>
<g stroke="#aaa" stroke-width="0.6">
<rect x="137.6" y="537.5" width="80.25" height="11" fill="#e9f0f3"/>
<rect x="217.85" y="537.5" width="80.25" height="11" fill="#ffeda0"/>
<rect x="298.1" y="537.5" width="80.25" height="11" fill="#fed976"/>
<rect x="378.35" y="537.5" width="80.25" height="11" fill="#feb24c"/>
<rect x="458.6" y="537.5" width="80.25" height="11" fill="#fd8d3c"/>
<rect x="538.85" y="537.5" width="80.25" height="11" fill="#fc4e2a"/>
<rect x="619.1" y="537.5" width="80.25" height="11" fill="#e31a1c"/>
<rect x="699.35" y="537.5" width="80.25" height="11" fill="#b10026"/>
</g>
<g stroke="#b5b5b5" stroke-width="1">
<line x1="177.7" y1="520" x2="177.7" y2="537"/>
<line x1="217.85" y1="534" x2="217.85" y2="537"/>
<line x1="298.1" y1="520" x2="298.1" y2="537"/>
<line x1="378.35" y1="534" x2="378.35" y2="537"/>
<line x1="458.6" y1="520" x2="458.6" y2="537"/>
<line x1="538.85" y1="534" x2="538.85" y2="537"/>
<line x1="619.1" y1="520" x2="619.1" y2="537"/>
<line x1="699.35" y1="534" x2="699.35" y2="537"/>
<line x1="779.6" y1="520" x2="779.6" y2="537"/>
</g>
<text class="l" x="177.7" y="516" text-anchor="middle">None</text>
<text class="l" x="217.85" y="530" text-anchor="middle">&lt;1 species</text>
<text class="l" x="298.1" y="516" text-anchor="middle">5 species</text>
<text class="l" x="378.35" y="530" text-anchor="middle">10 species</text>
<text class="l" x="458.6" y="516" text-anchor="middle">25 species</text>
<text class="l" x="538.85" y="530" text-anchor="middle">50 species</text>
<text class="l" x="619.1" y="516" text-anchor="middle">75 species</text>
<text class="l" x="699.35" y="530" text-anchor="middle">100 species</text>
<text class="l" x="779.6" y="516" text-anchor="middle">150 species</text>
</g>
<text class="l" x="16.6" y="581" textLength="560.3" lengthAdjust="spacingAndGlyphs"><tspan font-weight="bold">Data source:</tspan> International Union for Conservation of Nature Red List of Threatened Species (2025)</text>
<text class="l" x="596.3" y="581" textLength="234.3" lengthAdjust="spacingAndGlyphs">OurWorldinData.org/biodiversity | CC BY</text>
</svg>
</body></html>
